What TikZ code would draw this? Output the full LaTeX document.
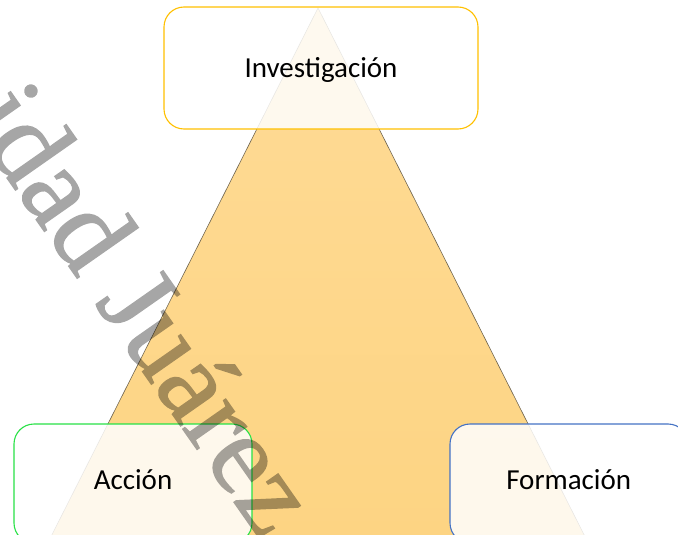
\documentclass[tikz,border=0pt]{standalone}
\usepackage{fontspec}
\setmainfont{Carlito}
\newfontfamily\wmfont[FakeBold=1.2]{Liberation Serif}
\definecolor{triTop}{RGB}{254,219,150}
\definecolor{triBot}{RGB}{253,210,125}
\definecolor{goldB}{RGB}{255,192,0}
\definecolor{greenB}{RGB}{40,225,70}
\definecolor{blueB}{RGB}{68,114,196}
\definecolor{edgeC}{RGB}{110,100,80}
\begin{document}
\begin{tikzpicture}[x=1pt,y=-1pt,
  box/.style={draw, line width=1.1pt, rounded corners=20pt, fill=white,
    fill opacity=0.85, inner sep=0pt},
  lbl/.style={anchor=base, inner sep=0pt, font=\fontsize{29}{34}\selectfont},
  watermark/.style={rotate=-55, anchor=base west, inner sep=0pt,
    text=black, font=\wmfont\fontsize{114}{134}\selectfont}]
\useasboundingbox (0,0) rectangle (678,535);
\clip (0,0) rectangle (678,535);
\coordinate (apex) at (318,8);
\coordinate (bl) at (-31.5,700);
\coordinate (br) at (667.5,700);
\shade[top color=triTop, bottom color=triBot] (apex) -- (bl) -- (br) -- cycle;
\draw[edgeC, line width=0.6pt] (bl) -- (apex) -- (br);
\node[box, draw=goldB, minimum width=314pt, minimum height=122pt] (inv) at (321,68) {};
\node[box, draw=greenB, minimum width=238pt, minimum height=119pt] (acc) at (133,483.5) {};
\node[box, draw=blueB, minimum width=238pt, minimum height=119pt] (form) at (569,483.5) {};
\node[lbl] (invT) at (321,77.3) {Investigación};
\node[lbl] (accT) at (133,489.3) {Acción};
\node[lbl] (formT) at (568.7,489.3) {Formación};
\begin{scope}[transparency group, opacity=0.35]
\node[watermark] (wm) at (-34.7,118.4) {idad Juárez};
\end{scope}
\end{tikzpicture}
\end{document}
